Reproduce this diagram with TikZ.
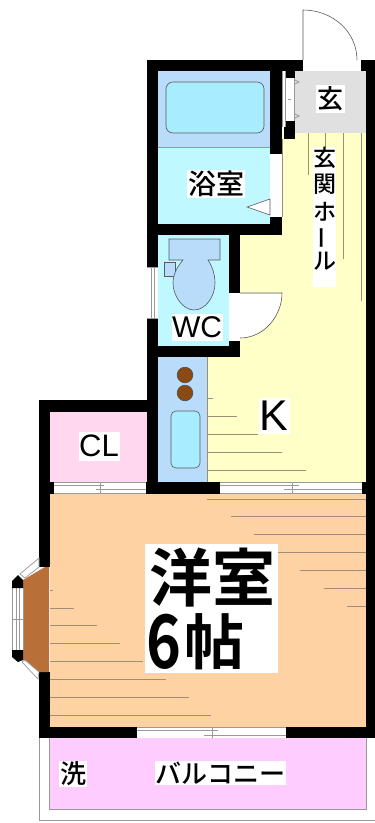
\documentclass[tikz,border=0pt]{standalone}
\usepackage{fontspec}
\setmainfont{Liberation Sans}
\newfontfamily\jp{Noto Sans CJK JP Medium}
\newfontfamily\jpb{Noto Sans CJK JP Bold}
\definecolor{wallc}{HTML}{000000}
\definecolor{bathblue}{HTML}{B8DCFA}
\definecolor{bathcyan}{HTML}{C0F8FF}
\definecolor{tubc}{HTML}{A8ECFF}
\definecolor{hally}{HTML}{FFFFC8}
\definecolor{pinkcl}{HTML}{FFD8F0}
\definecolor{peach}{HTML}{FFD2A4}
\definecolor{balc}{HTML}{FFCCFF}
\definecolor{brownbay}{HTML}{B87038}
\definecolor{entry}{HTML}{E0E0E0}
\definecolor{lineg}{HTML}{A08C78}
\definecolor{burner}{HTML}{8B4A14}
\tikzset{
  wall/.style={fill=black,draw=none},
  floorline/.style={draw=lineg,line width=0.9pt},
  thin gray/.style={draw=gray!80,line width=0.7pt},
  fit gray/.style={draw=black!65,line width=0.6pt},
  opening/.style={fill=white,draw=none},
  label/.style={fill=white,inner sep=0pt,text=black},
}
\begin{document}
\begin{tikzpicture}[x=1pt,y=-1pt]
\useasboundingbox (0,0) rectangle (375,823);
\fill[white] (0,0) rectangle (375,823);
% room fills
\fill[hally] (207,133) rectangle (366,482);
\fill[white] (207,133) rectangle (282,224);
\fill[hally] (240,224) rectangle (282,357);
\fill[entry] (295,71) rectangle (366,133);
\fill[bathblue] (158,71) rectangle (270,147);
\fill[bathcyan] (158,147) rectangle (270,224);
\fill[bathcyan] (158,234) rectangle (229,346);
\fill[bathblue] (158,357) rectangle (207,482);
\fill[pinkcl] (50,412) rectangle (147,482);
\fill[peach] (50,494) rectangle (366,727);
\fill[balc] (49,738) rectangle (366,809);
% hall floor lines
\draw[floorline] (308,133) -- (308,175);
\draw[floorline] (325,133) -- (325,150);
\draw[floorline] (343,133) -- (343,259);
\draw[floorline] (361,133) -- (361,301);
\draw[floorline] (282,139) -- (282,217);
% kitchen floor lines
\foreach \y/\x in {398/213,416/237,434/258,452/282,470/306}
  \draw[floorline] (207,\y) -- (\x,\y);
\draw[floorline] (207,357) -- (207,482);
% room floor lines
\foreach \y/\x in {590/53,608/74,625/97,643/120,661/143,679/166,697/189,715/211}
  \draw[floorline] (50,\y) -- (\x,\y);
\foreach \y/\x in {499/207,516/231,534/254,552/278,570/300,588/324,606/347}
  \draw[floorline] (\x,\y) -- (366,\y);
% walls
\fill[wall] (147,60) rectangle (303,71);
\fill[wall] (361,60) rectangle (375,71);
\fill[wall] (366,60) rectangle (375,738);
\fill[wall] (147,60) rectangle (158,494);
\fill[wall] (270,71) rectangle (282,154);
\fill[wall] (282,71) rectangle (295,78);
\fill[wall] (284,121) rectangle (295,139);
\fill[wall] (270,217) rectangle (282,235);
\fill[wall] (147,224) rectangle (282,235);
\fill[wall] (229,235) rectangle (240,293);
\fill[wall] (229,341) rectangle (240,357);
\fill[wall] (147,346) rectangle (240,357);
\fill[wall] (39,400) rectangle (158,412);
\fill[wall] (39,400) rectangle (50,567);
\fill[wall] (39,672) rectangle (50,738);
\fill[wall] (50,482) rectangle (54,494);
\fill[wall] (146,482) rectangle (220,494);
\fill[wall] (39,727) rectangle (137,738);
\fill[wall] (286,727) rectangle (375,738);
\fill[wall] (362,482) rectangle (366,494);
% entrance door
\fill[opening] (303,60) rectangle (361,71);
\draw[fit gray,fill=white] (303,60) -- (303,10) .. controls (333,10) and (357,32) .. (357,60);
% shoe cabinet
\fill[white] (282,71) rectangle (285,127);
\fill[white] (285,78) rectangle (294,121);
\draw[thin gray] (282,71) -- (282,127);
\draw[thin gray] (285,71) -- (285,127);
\draw[thin gray] (294,78) -- (294,121);
\draw[thin gray] (288,99) -- (291,99);
\draw[thin gray] (295,80) -- (299,82) -- (295,84);
\draw[thin gray] (295,114) -- (299,116) -- (295,118);
% bath door
\fill[opening] (270,154) rectangle (282,217);
\draw[fit gray,fill=white] (247,207) -- (270,199) -- (270,215) -- cycle;
% WC door and window
\fill[opening] (229,293) rectangle (240,341);
\draw[fit gray,fill=white] (240,293) -- (282,293) .. controls (282,316) and (264,338) .. (240,338);
\fill[opening] (147,267) rectangle (158,318);
\draw[thin gray] (147,267) -- (158,267) (147,318) -- (158,318) (151,267) -- (151,318) (154,267) -- (154,318);
% bathtub
\draw[fit gray,fill=tubc,rounded corners=7pt] (166,82) rectangle (264,133);
\draw[thin gray,line width=0.5pt] (158,147) -- (270,147);
% toilet
\draw[fit gray,fill=bathblue] (164,262) rectangle (175,276);
\draw[fit gray,fill=bathblue] (169,239) -- (220,239) -- (220,260) -- (208,260)
  .. controls (212,266) and (215,274) .. (215,283)
  .. controls (215,296) and (206,310) .. (194,310)
  .. controls (183,310) and (173,296) .. (173,283)
  .. controls (173,276) and (176,268) .. (183,260) -- (169,260) -- cycle;
% kitchen fixtures
\foreach \n/\y in {a/375,b/393}
  \draw[black!70,fill=burner,line width=0.6pt] (185,\y) circle (7.8);
\draw[fit gray,fill=tubc,rounded corners=5pt] (171,411) rectangle (200,468);
% sliding doors
\fill[opening] (54,482) rectangle (146,494);
\draw[thin gray] (54,485) -- (104,485) (96,489) -- (146,489) (100,482) -- (100,494) (54,493.5) -- (146,493.5) (54,482) -- (146,482);
\fill[opening] (220,482) rectangle (362,494);
\draw[thin gray] (220,485) -- (299,485) (284,489) -- (362,489) (292,482) -- (292,494) (220,482) -- (362,482) (220,493.5) -- (362,493.5);
\fill[opening] (137,727) rectangle (286,738);
\draw[thin gray] (137,730) -- (218,730) (204,735) -- (286,735) (212,727) -- (212,738) (137,727.5) -- (286,727.5);
% bay window
\fill[brownbay] (49,567) -- (45,567) -- (23,580) -- (23,660) -- (39,672) -- (49,672) -- cycle;
\fill[opening] (12,588) rectangle (23,650);
\draw[thin gray] (12,588) -- (12,650) (16,588) -- (16,650) (19,588) -- (19,650) (23,588) -- (23,650) (12,619) -- (23,619);
\fill[wall] (12,581) -- (18,575) -- (23,580) -- (23,588) -- (12,588) -- cycle;
\fill[wall] (12,650) -- (23,650) -- (23,660) -- (18,662) -- (12,657) -- cycle;
\draw[thin gray,fill=white] (20,574) -- (39,558) -- (39,567) -- (25,578) -- cycle;
\draw[thin gray,fill=white] (22,662) -- (38,679) -- (39,672) -- (25,660) -- cycle;
% balcony outlines
\draw[thin gray] (49,738) -- (49,809) -- (366,809) -- (366,738);
\draw[thin gray] (39,738) -- (39,820) -- (375,820);
% labels
\node[label,minimum width=29pt,minimum height=28pt,font=\jp\fontsize{26}{26}\selectfont] (gen) at (330,99) {玄};
\node[label,minimum width=23pt,minimum height=140pt] (hallbg) at (324.5,217) {};
\node[inner sep=0pt,font=\jp\fontsize{23}{23}\selectfont] (h1) at (325,158) {玄};
\node[inner sep=0pt,font=\jp\fontsize{23}{23}\selectfont] (h2) at (325,184) {関};
\node[inner sep=0pt,font=\jp\fontsize{23}{23}\selectfont] (h3) at (325,212) {ホ};
\node[inner sep=0pt,rotate=90,font=\jp\fontsize{23}{23}\selectfont] (h4) at (325,238) {ー};
\node[inner sep=0pt,font=\jp\fontsize{23}{23}\selectfont] (h5) at (325,261) {ル};
\node[label,inner sep=1pt,font=\jp\fontsize{28}{28}\selectfont] (bath) at (216,184) {浴室};
\node[label,minimum width=51pt,minimum height=27pt,font=\fontsize{30}{30}\selectfont] (wc) at (197,327) {WC};
\node[label,minimum width=31pt,minimum height=36pt,font=\fontsize{43}{43}\selectfont] (k) at (274,416) {K};
\node[label,minimum width=41pt,minimum height=29pt,font=\fontsize{31}{31}\selectfont] (cl) at (99,446) {CL};
\fill[white] (145,544) rectangle (278,673);
\node[inner sep=0pt,font=\jpb\fontsize{63}{63}\selectfont] (yo) at (212,578) {洋室};
\node[inner sep=0pt,font=\jpb\fontsize{63}{63}\selectfont,anchor=base west] (six) at (146,668) {\fontsize{74}{74}\selectfont\scalebox{.8}[1]{6}};
\node[inner sep=0pt,font=\jpb\fontsize{60}{60}\selectfont] (cho) at (214,642) {帖};
\node[label,inner sep=1pt,font=\jp\fontsize{26}{26}\selectfont] (wash) at (73,774) {洗};
\node[label,inner sep=1pt,font=\jp\fontsize{26}{26}\selectfont] (balcony) at (220.5,773) {バルコニー};
\end{tikzpicture}
\end{document}
